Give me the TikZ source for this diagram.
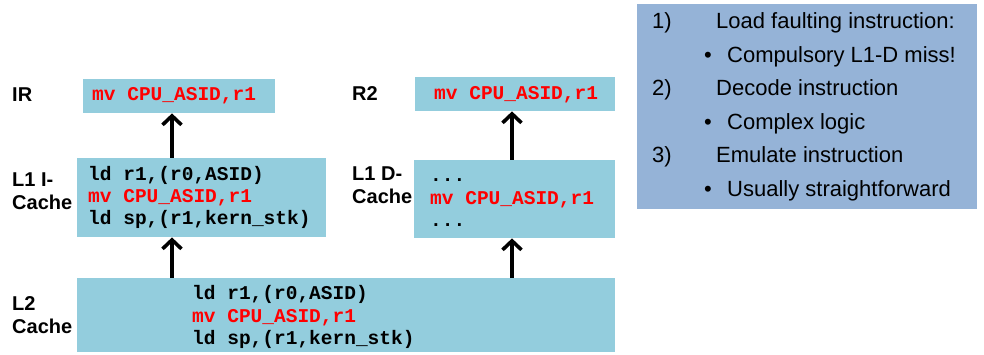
\documentclass[tikz,border=0pt]{standalone}
\usepackage{fontspec}
\setmainfont{Liberation Sans}
\newfontfamily\codefont{Liberation Mono}
\usetikzlibrary{arrows.meta}
\definecolor{cachebg}{RGB}{147,205,221}
\definecolor{panelbg}{RGB}{149,179,215}
\definecolor{codered}{RGB}{255,0,0}
\tikzset{
  box/.style={fill=cachebg, draw=none, inner sep=0pt, anchor=north west},
  panel/.style={fill=panelbg, draw=none, inner sep=0pt, anchor=north west},
  code/.style={font=\codefont\bfseries\fontsize{19.5}{22}\selectfont, anchor=base west, inner sep=0pt},
  hot/.style={text=codered},
  lbl/.style={font=\bfseries\fontsize{20}{23}\selectfont, anchor=base west, inner sep=0pt, align=left},
  itemtxt/.style={font=\fontsize{22}{26}\selectfont, anchor=base west, inner sep=0pt},
  arr/.style={line width=3.6pt, -{Straight Barb[length=9pt,width=19pt]}}
}
\begin{document}
\begin{tikzpicture}[x=1pt,y=-1pt]
\path[use as bounding box] (0,0) rectangle (984,355);

% boxes
\node[box, minimum width=192pt, minimum height=34pt] (IR) at (83,79) {};
\node[box, minimum width=249pt, minimum height=79pt] (L1I) at (77,158) {};
\node[box, minimum width=200pt, minimum height=34pt] (R2) at (415,77) {};
\node[box, minimum width=201pt, minimum height=78pt] (L1D) at (414,160) {};
\node[box, minimum width=538pt, minimum height=74pt] (L2) at (77,278) {};
\node[panel, minimum width=340pt, minimum height=205pt] (P) at (637,4) {};

% labels (anchor base = baseline of the last line)
\node[lbl] (lIR) at (12,102) {IR};
\node[lbl] (lL1I) at (12,210) {L1 I-\\Cache};
\node[lbl] (lR2) at (352,101) {R2};
\node[lbl] (lL1D) at (352,204) {L1 D-\\Cache};
\node[lbl] (lL2) at (12,333) {L2\\Cache};

% code text
\node[code, hot] (tIR) at (92,101) {mv CPU\_ASID,r1};
\node[code] (tI1) at (88,181) {ld r1,(r0,ASID)};
\node[code, hot] (tI2) at (88,203) {mv CPU\_ASID,r1};
\node[code] (tI3) at (88,225) {ld sp,(r1,kern\_stk)};
\node[code, hot] (tR2) at (434,100) {mv CPU\_ASID,r1};
\node[code] (tD1) at (430,182) {...};
\node[code, hot] (tD2) at (430,205) {mv CPU\_ASID,r1};
\node[code] (tD3) at (430,227) {...};
\node[code] (tL1) at (192,299) {ld r1,(r0,ASID)};
\node[code, hot] (tL2) at (192,322) {mv CPU\_ASID,r1};
\node[code] (tL3) at (192,344) {ld sp,(r1,kern\_stk)};

% arrows
\coordinate (ax) at (172,0);
\coordinate (bx) at (512,0);
\draw[arr] (L1I.north -| ax) -- (IR.south -| ax);
\draw[arr] (L2.north -| ax) -- (L1I.south -| ax);
\draw[arr] (L1D.north -| bx) -- (R2.south -| bx);
\draw[arr] (L2.north -| bx) -- (L1D.south -| bx);

% right panel
\node[itemtxt] (n1) at (652,29) {1)};
\node[itemtxt] (i1) at (716,29) {Load faulting instruction:};
\node[itemtxt] (b1) at (704,62.5) {•};
\node[itemtxt] (s1) at (727,62.5) {Compulsory L1-D miss!};
\node[itemtxt] (n2) at (652,96) {2)};
\node[itemtxt] (i2) at (716,96) {Decode instruction};
\node[itemtxt] (b2) at (704,129.5) {•};
\node[itemtxt] (s2) at (727,129.5) {Complex logic};
\node[itemtxt] (n3) at (652,163) {3)};
\node[itemtxt] (i3) at (716,163) {Emulate instruction};
\node[itemtxt] (b3) at (704,196.5) {•};
\node[itemtxt] (s3) at (727,196.5) {Usually straightforward};
\end{tikzpicture}
\end{document}
